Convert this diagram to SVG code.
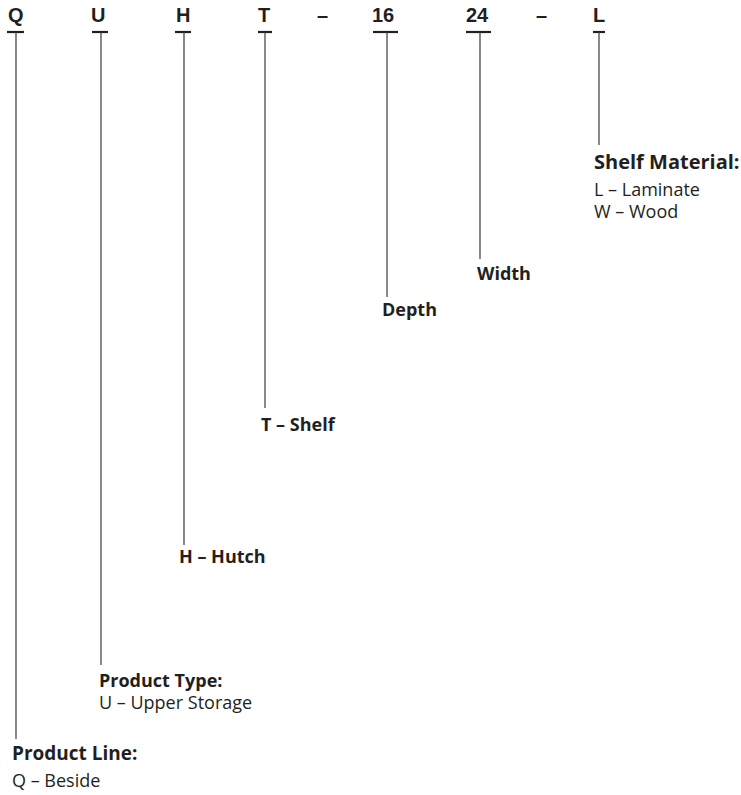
<svg xmlns="http://www.w3.org/2000/svg" width="741" height="795" viewBox="0 0 741 795">
<style>
.code{font-family:"Liberation Sans",Arial,sans-serif;font-weight:700;font-size:20px;fill:#231f20}
.bar{stroke:#231f20;stroke-width:2.2}
.lead{stroke:#3a3a3a;stroke-width:1.2;fill:none}
.h{font-family:"Open Sans","Liberation Sans",sans-serif;font-weight:700;font-size:18px;fill:#231f20}
.t{font-family:"Open Sans","Liberation Sans",sans-serif;font-weight:400;font-size:18px;fill:#231f20}
</style>
<rect width="741" height="795" fill="#fff"/>
<g id="code">
<text class="code" x="8" y="22">Q</text>
<text class="code" x="91" y="22">U</text>
<text class="code" x="176" y="22">H</text>
<text class="code" x="258" y="22">T</text>
<text class="code" x="317" y="22">–</text>
<text class="code" x="372" y="22">16</text>
<text class="code" x="466" y="22">24</text>
<text class="code" x="536" y="22">–</text>
<text class="code" x="593" y="22">L</text>
</g>
<g id="connectors">
<line class="bar" x1="7" y1="32" x2="24" y2="32"/>
<line class="bar" x1="92" y1="32" x2="108" y2="32"/>
<line class="bar" x1="175" y1="32" x2="191" y2="32"/>
<line class="bar" x1="258" y1="32" x2="272" y2="32"/>
<line class="bar" x1="373" y1="32" x2="398" y2="32"/>
<line class="bar" x1="466" y1="32" x2="491" y2="32"/>
<line class="bar" x1="593" y1="32" x2="605" y2="32"/>
<line class="lead" x1="16" y1="32" x2="16" y2="739"/>
<line class="lead" x1="101" y1="32" x2="101" y2="665"/>
<line class="lead" x1="184" y1="32" x2="184" y2="545"/>
<line class="lead" x1="265" y1="32" x2="265" y2="408"/>
<line class="lead" x1="387" y1="32" x2="387" y2="297"/>
<line class="lead" x1="480" y1="32" x2="480" y2="259"/>
<line class="lead" x1="599" y1="32" x2="599" y2="145"/>
</g>
<g id="product-line">
<text class="h" x="12" y="760" style="font-size:19px">Product Line:</text>
<text class="t" x="12" y="787">Q – Beside</text>
</g>
<g id="product-type">
<text class="h" x="99" y="687">Product Type:</text>
<text class="t" x="99" y="709">U – Upper Storage</text>
</g>
<g id="hutch">
<text class="h" x="179" y="563">H – Hutch</text>
</g>
<g id="shelf">
<text class="h" x="261" y="431">T – Shelf</text>
</g>
<g id="depth">
<text class="h" x="382" y="316">Depth</text>
</g>
<g id="width">
<text class="h" x="477" y="280">Width</text>
</g>
<g id="shelf-material">
<text class="h" x="594" y="169" style="font-size:20px">Shelf Material:</text>
<text class="t" x="594" y="196">L – Laminate</text>
<text class="t" x="594" y="218">W – Wood</text>
</g>
</svg>
